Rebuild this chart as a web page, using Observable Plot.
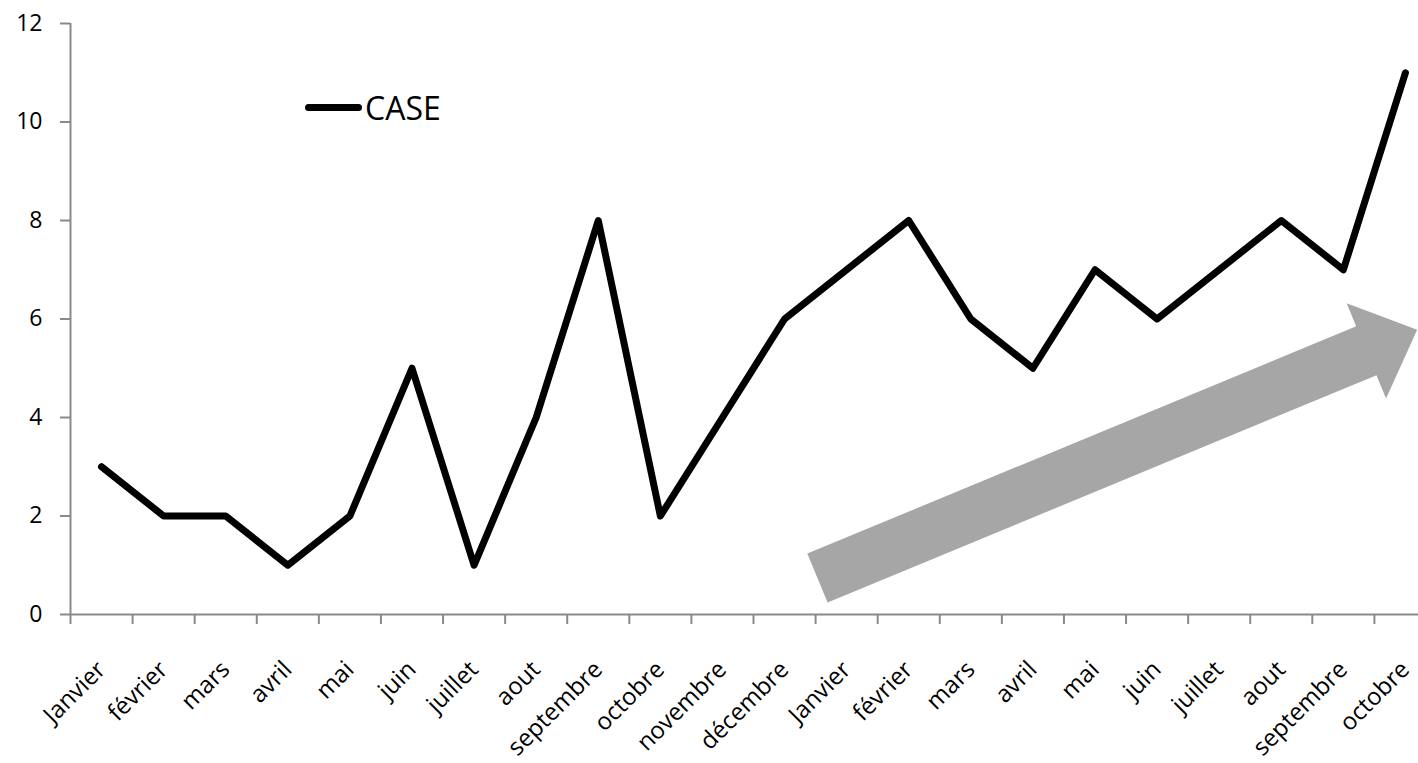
<!DOCTYPE html>
<html><head><meta charset="utf-8">
<script src="https://cdn.jsdelivr.net/npm/d3@7"></script>
<script src="https://cdn.jsdelivr.net/npm/@observablehq/plot@0.6"></script>
<style>
html,body{margin:0;padding:0;background:#fff;overflow:hidden}
#wrap{position:relative;width:1418px;height:763px;overflow:hidden}
#legend{position:absolute;left:305px;top:85px;height:44px;display:flex;align-items:center;font:32px "Open Sans",sans-serif;color:#000}
#legend .sw{display:inline-block;width:57px;height:7px;background:#000;border-radius:4px;margin-right:3px}
</style></head><body>
<div id="wrap"><div id="legend"><span class="sw"></span><span>CASE</span></div></div>
<script>
const months = ["Janvier","février","mars","avril","mai","juin","juillet","aout","septembre","octobre","novembre","décembre","Janvier","février","mars","avril","mai","juin","juillet","aout","septembre","octobre"];
const cases = [3,2,2,1,2,5,1,4,8,2,4,6,7,8,6,5,7,6,7,8,7,11];
const yTicks = [0,2,4,6,8,10,12];
const trendArrow = [{x1: 11.53, y1: 0.74, x2: 20.40, y2: 5.37}];

const boundaries = months.map((m, i) => i - 0.5).concat([months.length - 0.5]);

const xDomain = [-0.5, months.length - 0.5], xRange = [70, 1436];
const yDomain = [0, 12], yRange = [614, 23];
const sx = d3.scaleLinear(xDomain, xRange), sy = d3.scaleLinear(yDomain, yRange);
const a = trendArrow[0];
const angle = Math.atan2(sy(a.y2) - sy(a.y1), sx(a.x2) - sx(a.x1)) * 180 / Math.PI;

const headSymbol = {
  draw(ctx) {
    ctx.moveTo(-2, -51.5);
    ctx.lineTo(53, 0);
    ctx.lineTo(-2, 51.5);
    ctx.closePath();
  }
};

const chart = Plot.plot({
  width: 1418,
  height: 763,
  marginLeft: 70,
  marginRight: 0,
  marginTop: 23,
  marginBottom: 149,
  style: {fontFamily: "'Open Sans', sans-serif", background: "transparent", overflow: "hidden"},
  x: {domain: xDomain, range: xRange, axis: null},
  y: {domain: yDomain, axis: null},
  marks: [
    Plot.link(trendArrow, {x1: "x1", y1: "y1", x2: "x2", y2: "y2", stroke: "#a6a6a6", strokeWidth: 53, strokeLinecap: "butt"}),
    Plot.dot(trendArrow, {x: "x2", y: "y2", symbol: headSymbol, r: 1, fill: "#a6a6a6", stroke: "none", rotate: angle}),
    Plot.ruleY([0], {stroke: "#8a8a8a", strokeWidth: 2}),
    Plot.ruleX([-0.5], {stroke: "#8a8a8a", strokeWidth: 2}),
    Plot.axisY({ticks: yTicks, tickSize: 10, tickPadding: 18, stroke: "#8a8a8a", strokeWidth: 2, fill: "#000", fontSize: 23, tickFormat: d => String(d)}),
    Plot.axisX({ticks: boundaries, tickSize: 10, tickFormat: () => "", stroke: "#8a8a8a", strokeWidth: 2}),
    Plot.text(months, {x: (d, i) => i, y: () => 0, text: d => d, rotate: -45, textAnchor: "end", lineAnchor: "middle", dx: 0, dy: 51, fontSize: 24, fill: "#000"}),
    Plot.line(cases, {x: (d, i) => i, y: d => d, stroke: "#000", strokeWidth: 7, strokeLinejoin: "round", strokeLinecap: "round"})
  ]
});
document.getElementById("wrap").prepend(chart);
</script>
</body></html>
